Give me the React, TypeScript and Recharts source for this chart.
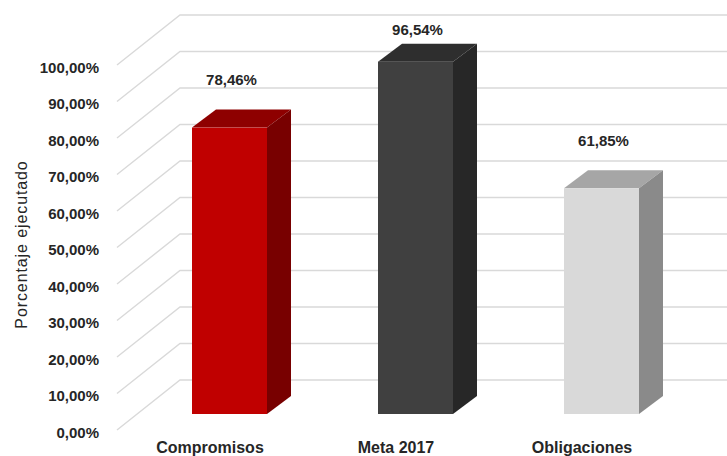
import React from 'react';
import { BarChart, Bar, XAxis, YAxis, CartesianGrid, LabelList } from 'recharts';

const categories = ['Compromisos', 'Meta 2017', 'Obligaciones'];
const values = [78.46, 96.54, 61.85];
const yTicks = [0, 10, 20, 30, 40, 50, 60, 70, 80, 90, 100];

const frontColors = ['#C00000', '#404040', '#D9D9D9'];
const topColors = ['#8E0000', '#2E2E2E', '#A6A6A6'];
const sideColors = ['#780000', '#272727', '#8A8A8A'];

const data = categories.map((name, i) => ({ name, value: values[i] }));

// 3D depth parameters (styling)
const FRONT_DX = 19;
const FRONT_DY = -16;
const DEPTH_DX = 24;
const DEPTH_DY = -18;
const WALL_DX = 63;
const WALL_DY = -50;

const fmt = (v: number) => v.toFixed(2).replace('.', ',') + '%';

const Box3D = (props: any) => {
  const { x, y, width, height, index } = props;
  const fx = x + FRONT_DX;
  const fy = y + FRONT_DY;
  const w = width;
  const h = height;
  return (
    <g>
      <polygon
        points={`${fx},${fy} ${fx + DEPTH_DX},${fy + DEPTH_DY} ${fx + w + DEPTH_DX},${fy + DEPTH_DY} ${fx + w},${fy}`}
        fill={topColors[index]}
      />
      <polygon
        points={`${fx + w},${fy} ${fx + w + DEPTH_DX},${fy + DEPTH_DY} ${fx + w + DEPTH_DX},${fy + h + DEPTH_DY} ${fx + w},${fy + h}`}
        fill={sideColors[index]}
      />
      <rect x={fx} y={fy} width={w} height={h} fill={frontColors[index]} />
    </g>
  );
};

const GridLine = (props: any) => {
  const { x1, y1, key } = props;
  return (
    <g key={key}>
      <polyline
        points={`${x1},${y1} ${x1 + WALL_DX},${y1 + WALL_DY} 740,${y1 + WALL_DY}`}
        fill="none"
        stroke="#D9D9D9"
        strokeWidth={1.4}
      />
    </g>
  );
};

const YTick = (props: any) => {
  const { x, y, payload } = props;
  return (
    <text
      x={x}
      y={y + 2}
      textAnchor="end"
      dominantBaseline="central"
      fontFamily="'Liberation Sans', Arial, sans-serif"
      fontSize={15}
      fontWeight="bold"
      fill="#262626"
    >
      {fmt(payload.value)}
    </text>
  );
};

const XTick = (props: any) => {
  const { x, y, payload } = props;
  return (
    <text
      x={x}
      y={y + 21}
      textAnchor="middle"
      fontFamily="'Liberation Sans', Arial, sans-serif"
      fontSize={16}
      fontWeight="bold"
      fill="#262626"
    >
      {payload.value}
    </text>
  );
};

const ValueLabel = (props: any) => {
  const { x, y, width, value } = props;
  const cx = x + width / 2 + 21;
  const cy = Math.max(y - 64, 29);
  return (
    <text
      x={cx}
      y={cy}
      textAnchor="middle"
      dominantBaseline="central"
      fontFamily="'Liberation Sans', Arial, sans-serif"
      fontSize={15}
      fontWeight="bold"
      fill="#262626"
    >
      {fmt(value)}
    </text>
  );
};

const AxisTitle = (props: any) => {
  const vb = props.viewBox || { x: 0, y: 65, width: 117, height: 365 };
  const cx = 21;
  const cy = vb.y + vb.height / 2 - 3;
  return (
    <text
      x={cx}
      y={cy}
      transform={`rotate(-90, ${cx}, ${cy})`}
      textAnchor="middle"
      dominantBaseline="central"
      fontFamily="'Liberation Sans', Arial, sans-serif"
      fontSize={16}
      letterSpacing={0.9}
      fill="#262626"
    >
      Porcentaje ejecutado
    </text>
  );
};

export default function App() {
  return (
    <div style={{ position: 'absolute', left: 0, top: 0, background: '#fff' }}>
      <BarChart
        width={727}
        height={456}
        data={data}
        margin={{ top: 65, right: 52, bottom: 0, left: 0 }}
        barSize={75}
      >
        <CartesianGrid vertical={false} horizontal={GridLine} />
        <XAxis
          dataKey="name"
          height={26}
          axisLine={false}
          tickLine={false}
          tickSize={0}
          tick={<XTick />}
          interval={0}
        />
        <YAxis
          width={117}
          domain={[0, 100]}
          ticks={yTicks}
          axisLine={false}
          tickLine={false}
          tickSize={0}
          tickMargin={18}
          tick={<YTick />}
          label={{ content: <AxisTitle /> }}
        />
        <Bar dataKey="value" shape={<Box3D />} isAnimationActive={false}>
          <LabelList dataKey="value" content={<ValueLabel />} />
        </Bar>
      </BarChart>
    </div>
  );
}
